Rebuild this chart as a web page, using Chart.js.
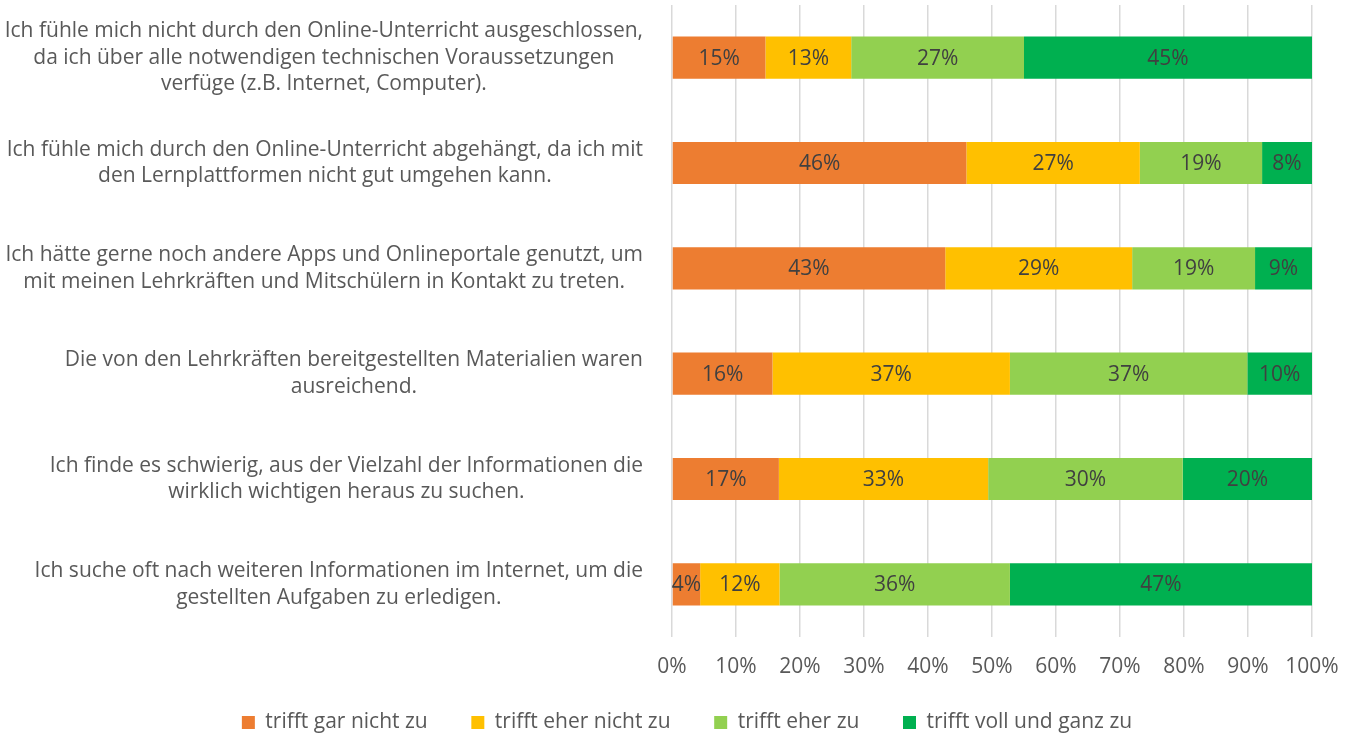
<!DOCTYPE html>
<html>
<head>
<meta charset="utf-8">
<script src="https://cdn.jsdelivr.net/npm/chart.js@4"></script>
<style>
  html, body { margin: 0; padding: 0; background: #fff; }
  #wrap { width: 1353px; height: 733px; }
</style>
</head>
<body>
<div id="wrap"><canvas id="chart"></canvas></div>
<script>
const categories = [
  ['Ich fühle mich nicht durch den Online-Unterricht ausgeschlossen,', 'da ich über alle notwendigen technischen Voraussetzungen', 'verfüge (z.B. Internet, Computer).'],
  ['Ich fühle mich durch den Online-Unterricht abgehängt, da ich mit', 'den Lernplattformen nicht gut umgehen kann.'],
  ['Ich hätte gerne noch andere Apps und Onlineportale genutzt, um', 'mit meinen Lehrkräften und Mitschülern in Kontakt zu treten.'],
  ['Die von den Lehrkräften bereitgestellten Materialien waren', 'ausreichend.'],
  ['Ich finde es schwierig, aus der Vielzahl der Informationen die', 'wirklich wichtigen heraus zu suchen.'],
  ['Ich suche oft nach weiteren Informationen im Internet, um die', 'gestellten Aufgaben zu erledigen.']
];
const seriesNames = ['trifft gar nicht zu', 'trifft eher nicht zu', 'trifft eher zu', 'trifft voll und ganz zu'];
const garNicht = [14.6, 46.0, 42.7, 15.7, 16.7, 4.4];
const eherNicht = [13.4, 27.1, 29.2, 37.1, 32.7, 12.4];
const eher = [27.0, 19.1, 19.2, 37.1, 30.4, 36.0];
const vollGanz = [45.0, 7.8, 8.9, 10.1, 20.2, 47.2];
const xTicks = [0, 10, 20, 30, 40, 50, 60, 70, 80, 90, 100];

const colors = ['#ED7D31', '#FFC000', '#92D050', '#00B050'];
const FONT = "'Open Sans', sans-serif";
const FS = 21;

// category labels: block right-aligned, lines centred in the block (like Excel)
const catLabels = {
  id: 'catLabels',
  afterDraw(chart) {
    const ctx = chart.ctx;
    const y = chart.scales.y;
    const right = chart.chartArea.left - 29;
    const lh = 26.5;
    ctx.save();
    ctx.font = FS + 'px ' + FONT;
    ctx.fillStyle = '#595959';
    ctx.textAlign = 'center';
    ctx.textBaseline = 'middle';
    categories.forEach((lines, i) => {
      const cy = y.getPixelForValue(i);
      const w = Math.max(...lines.map(l => ctx.measureText(l).width));
      const cx = right - w / 2;
      const y0 = cy - (lines.length - 1) * lh / 2;
      lines.forEach((l, j) => ctx.fillText(l, cx, y0 + j * lh));
    });
    ctx.restore();
  }
};

const barLabels = {
  id: 'barLabels',
  afterDatasetsDraw(chart) {
    const ctx = chart.ctx;
    ctx.save();
    ctx.font = FS + 'px ' + FONT;
    ctx.fillStyle = '#404040';
    ctx.textAlign = 'center';
    ctx.textBaseline = 'middle';
    chart.data.datasets.forEach((ds, di) => {
      chart.getDatasetMeta(di).data.forEach((el, i) => {
        const p = el.getCenterPoint();
        ctx.fillText(Math.round(ds.data[i]) + '%', p.x, p.y + 1);
      });
    });
    ctx.restore();
  }
};

// legend without the extra 10px chart.js adds below it, nudged right like the original
const tightLegend = {
  id: 'tightLegend',
  afterInit(chart) {
    const lg = chart.legend;
    if (!lg) return;
    const fit = lg.fit;
    lg.fit = function () { fit.call(this); this.height -= 10; };
  },
  afterLayout(chart) {
    const lg = chart.legend;
    if (!lg) return;
    lg.left += 31;
    lg.right += 31;
  }
};

new Chart(document.getElementById('chart'), {
  type: 'bar',
  data: {
    labels: categories.map(c => c.join(' ')),
    datasets: [garNicht, eherNicht, eher, vollGanz].map((d, i) => ({
      label: seriesNames[i],
      data: d,
      backgroundColor: colors[i],
      categoryPercentage: 1,
      barPercentage: 0.4
    }))
  },
  options: {
    indexAxis: 'y',
    responsive: true,
    maintainAspectRatio: false,
    animation: false,
    layout: { padding: { top: 5, right: 41, left: 0, bottom: 0 } },
    scales: {
      x: {
        stacked: true,
        min: 0,
        max: 100,
        afterBuildTicks(scale) { scale.ticks = xTicks.map(v => ({ value: v })); },
        afterFit(scale) {
          scale.height = 75;
          scale.paddingLeft = 0;
          scale.paddingRight = 0;
        },
        ticks: {
          callback: v => v + '%',
          color: '#595959',
          font: { family: FONT, size: FS },
          padding: 17,
          maxRotation: 0
        },
        grid: { color: '#d9d9d9', lineWidth: 1.5, drawTicks: false },
        border: { display: false }
      },
      y: {
        stacked: true,
        ticks: { display: false },
        grid: { display: false },
        border: { display: false },
        afterFit(scale) { scale.width = 672; }
      }
    },
    plugins: {
      legend: {
        position: 'bottom',
        labels: {
          color: '#595959',
          font: { family: FONT, size: FS },
          boxWidth: 13,
          boxHeight: 13,
          padding: 0,
          generateLabels(chart) {
            const items = Chart.defaults.plugins.legend.labels.generateLabels(chart);
            items.forEach((it, i) => {
              it.lineWidth = 0;
              if (i < items.length - 1) it.text += '        ';
            });
            return items;
          }
        }
      },
      tooltip: { enabled: false }
    }
  },
  plugins: [catLabels, barLabels, tightLegend]
});
</script>
</body>
</html>
